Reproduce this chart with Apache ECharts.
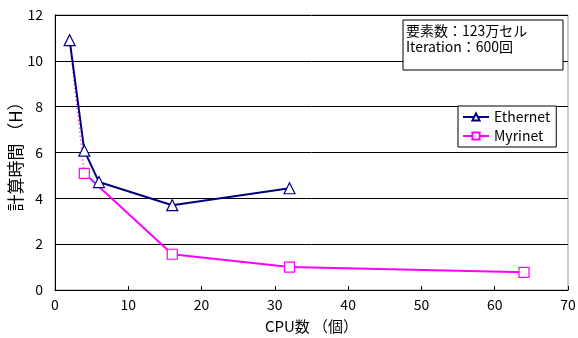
<!DOCTYPE html>
<html><head><meta charset="utf-8">
<script src="https://cdn.jsdelivr.net/npm/echarts@6/dist/echarts.min.js"></script>
<style>html,body{margin:0;padding:0;background:#fff}#c{width:578px;height:338px}</style>
</head><body><div id="c"></div>
<script>
const ethernetCpu = [2, 4, 6, 16, 32];
const ethernetHours = [10.9, 6.08, 4.71, 3.7, 4.44];
const myrinetCpu = [4, 16, 32, 64];
const myrinetHours = [5.09, 1.56, 1.0, 0.77];
const myrinetDottedCpu = [2, 4];
const myrinetDottedHours = [10.9, 5.09];
const xTicks = [0, 10, 20, 30, 40, 50, 60, 70];
const yTicks = [0, 2, 4, 6, 8, 10, 12];

const font = '"Noto Sans CJK JP", "DejaVu Sans", sans-serif';
const zip = (a, b) => a.map((v, i) => [v, b[i]]);

const chart = echarts.init(document.getElementById('c'), null, {renderer: 'canvas'});
chart.setOption({
  animation: false,
  textStyle: {fontFamily: font},
  grid: {left: 55, right: 10, top: 15, bottom: 48, show: true, borderColor: '#999', borderWidth: 1,
         containLabel: false, outerBoundsMode: 'none'},
  xAxis: {
    type: 'value', min: xTicks[0], max: xTicks[xTicks.length - 1], interval: 10,
    name: 'CPU数 （個）', nameLocation: 'middle', nameGap: 29, nameMoveOverlap: false,
    nameTextStyle: {fontSize: 15, color: '#000', fontFamily: font},
    axisLine: {lineStyle: {color: '#000', width: 1}},
    axisTick: {inside: true, length: 4, lineStyle: {color: '#000'}},
    axisLabel: {fontSize: 14, color: '#000', margin: 8},
    splitLine: {show: false}
  },
  yAxis: {
    type: 'value', min: yTicks[0], max: yTicks[yTicks.length - 1], interval: 2,
    name: '計算時間 （H）', nameLocation: 'middle', nameGap: 31, nameRotate: 90, nameMoveOverlap: false,
    nameTextStyle: {fontSize: 17, color: '#000', fontFamily: font},
    axisLine: {lineStyle: {color: '#000', width: 1}},
    axisTick: {inside: true, length: 4, lineStyle: {color: '#000'}},
    axisLabel: {fontSize: 14, color: '#000', margin: 12},
    splitLine: {show: true, lineStyle: {color: '#000', width: 1}}
  },
  legend: {
    orient: 'vertical', left: 458, top: 106,
    data: ['Ethernet', 'Myrinet'],
    borderColor: '#000', borderWidth: 1, backgroundColor: '#fff',
    padding: [4, 6, 4, 4], itemGap: 5, itemWidth: 26, itemHeight: 9,
    textStyle: {fontSize: 14, color: '#000', fontFamily: font}
  },
  graphic: [
    {type: 'rect', shape: {x: 403, y: 20, width: 160, height: 50}, style: {fill: '#fff', stroke: '#000', lineWidth: 1}, z: 10},
    {type: 'text', x: 406, y: 23, style: {text: '要素数：123万セル\nIteration：600回', font: '14px ' + font, fill: '#000', lineHeight: 16}, z: 11}
  ],
  series: [
    {
      name: 'Myrinet dotted', type: 'line', data: zip(myrinetDottedCpu, myrinetDottedHours),
      symbol: 'none', lineStyle: {color: '#ff00ff', width: 1.5, type: [1, 3]}, z: 1
    },
    {
      name: 'Myrinet', type: 'line', data: zip(myrinetCpu, myrinetHours),
      symbol: 'rect', symbolSize: 10, color: '#ff00ff',
      itemStyle: {color: '#fff', borderColor: '#ff00ff', borderWidth: 1.2},
      lineStyle: {color: '#ff00ff', width: 2}, z: 2
    },
    {
      name: 'Ethernet', type: 'line', data: zip(ethernetCpu, ethernetHours),
      symbol: 'triangle', symbolSize: 11, color: '#000080',
      itemStyle: {color: '#fff', borderColor: '#000080', borderWidth: 1.2},
      lineStyle: {color: '#000080', width: 2}, z: 3
    }
  ]
});
</script></body></html>
